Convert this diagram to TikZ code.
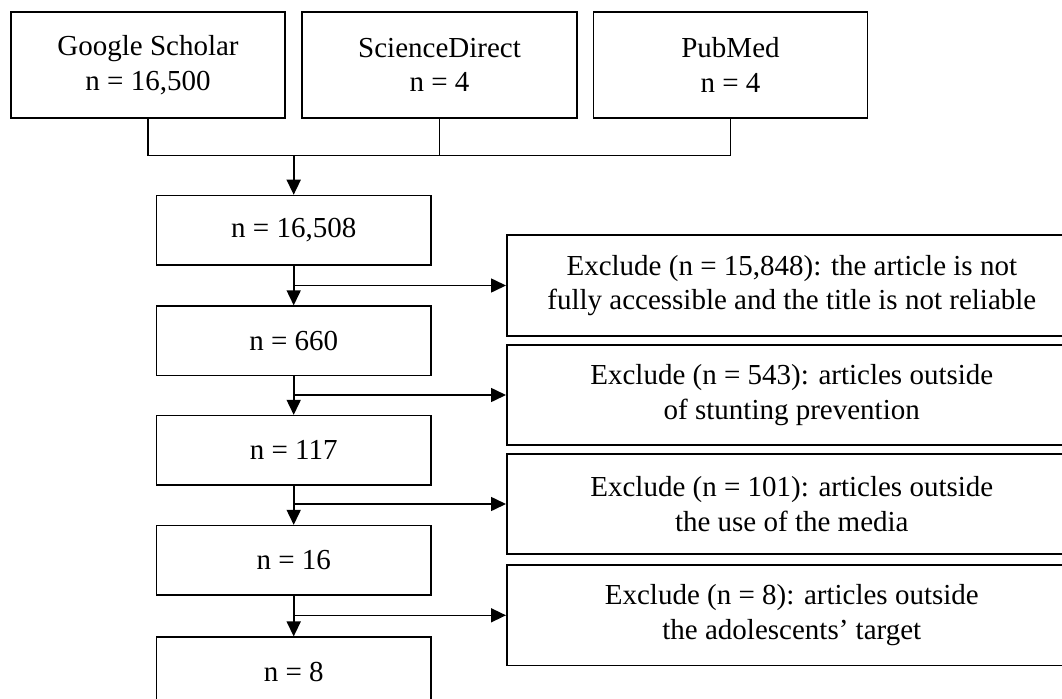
\documentclass[tikz,border=0pt]{standalone}
\usepackage{fontspec}
\setmainfont{Liberation Serif}
\usetikzlibrary{arrows.meta}
\tikzset{
  box/.style={draw, line width=1.6bp, inner sep=0pt, align=center,
    font=\fontsize{29bp}{34.5bp}\selectfont},
  srcbox/.style={box, minimum width=274bp, minimum height=106bp},
  mainbox/.style={box, minimum width=274.3bp, minimum height=69.5bp},
  exbox/.style={box, minimum width=570bp, minimum height=100.5bp},
  link/.style={line width=1.6bp},
  arr/.style={line width=1.6bp, -{Triangle[length=15bp,width=14bp]}}
}
\begin{document}
\begin{tikzpicture}[x=1bp, y=-1bp]
\clip (0,0) rectangle (1062,699);
\fill[white] (0,0) rectangle (1062,699);
% sources
\node[srcbox] (gs) at (148,65) {Google Scholar\\n = 16,500};
\node[srcbox, minimum width=275bp] (sd) at (439.5,65) {ScienceDirect\\n = 4};
\node[srcbox] (pm) at (730.5,65) {PubMed\\n = 4};
\coordinate (bus) at (0,155.7);
% main column
\node[mainbox] (b1) at (293.7,230.3) {n = 16,508};
\node[mainbox] (b2) at (293.7,340.9) {n = 660};
\node[mainbox] (b3) at (293.7,450.4) {n = 117};
\node[mainbox] (b4) at (293.7,560.4) {n = 16};
\node[mainbox] (b5) at (293.7,672.0) {n = 8};
% exclusions
\node[exbox] (e1) at (791.8,285.5) {Exclude (n = 15,848): the article is not\\fully accessible and the title is not reliable};
\node[exbox] (e2) at (791.8,395.0) {Exclude (n = 543): articles outside\\of stunting prevention};
\node[exbox] (e3) at (791.8,504.0) {Exclude (n = 101): articles outside\\the use of the media};
\node[exbox] (e4) at (791.8,615.3) {Exclude (n = 8): articles outside\\the adolescents’ target};
% merge lines
\draw[link] (gs.south) -- (gs.south |- bus) -- (pm.south |- bus) -- (pm.south);
\draw[link] (sd.south) -- (sd.south |- bus);
\draw[arr] (b1.north |- bus) -- (b1.north);
% flow
\draw[arr] (b1.south) -- (b2.north);
\draw[arr] (b2.south) -- (b3.north);
\draw[arr] (b3.south) -- (b4.north);
\draw[arr] (b4.south) -- (b5.north);
\draw[arr] (b1.south |- e1.west) -- (e1.west);
\draw[arr] (b2.south |- e2.west) -- (e2.west);
\draw[arr] (b3.south |- e3.west) -- (e3.west);
\draw[arr] (b4.south |- e4.west) -- (e4.west);
\end{tikzpicture}
\end{document}
